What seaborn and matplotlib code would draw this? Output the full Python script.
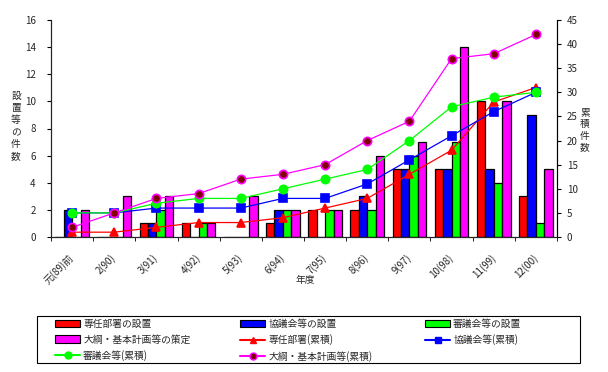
import numpy as np
import pandas as pd
import matplotlib
matplotlib.use("Agg")
import matplotlib.pyplot as plt
import matplotlib.transforms as mtrans
import seaborn as sns
from matplotlib.patches import Patch, Rectangle
from matplotlib.lines import Line2D

# ---- data ----
years = ["元(89)前", "2(90)", "3(91)", "4(92)", "5(93)", "6(94)",
         "7(95)", "8(96)", "9(97)", "10(98)", "11(99)", "12(00)"]

senin = [0, 0, 1, 1, 0, 1, 2, 2, 5, 5, 10, 3]        # 専任部署の設置
kyogi = [2, 0, 1, 0, 0, 2, 0, 3, 5, 5, 5, 9]         # 協議会等の設置
shingi = [0, 0, 2, 1, 0, 2, 2, 2, 6, 7, 4, 1]        # 審議会等の設置
taiko = [2, 3, 3, 1, 3, 2, 2, 6, 7, 14, 10, 5]       # 大綱・基本計画等の策定

senin_cum = [1, 1, 2, 3, 3, 4, 6, 8, 13, 18, 28, 31]
kyogi_cum = [5, 5, 6, 6, 6, 8, 8, 11, 16, 21, 26, 30]
shingi_cum = [5, 5, 7, 8, 8, 10, 12, 14, 20, 27, 29, 30]
taiko_cum = [2, 5, 8, 9, 12, 13, 15, 20, 24, 37, 38, 42]

bar_names = ["専任部署の設置", "協議会等の設置", "審議会等の設置", "大綱・基本計画等の策定"]
line_names = ["専任部署(累積)", "協議会等(累積)", "審議会等(累積)", "大綱・基本計画等(累積)"]
colors = ["#FF0000", "#0000FF", "#00FF00", "#FF00FF"]

sns.set_style("white")
plt.rcParams["font.family"] = ["Noto Sans CJK JP", "DejaVu Sans"]
plt.rcParams["font.size"] = 7

df = pd.DataFrame({
    "year": years * 4,
    "count": senin + kyogi + shingi + taiko,
    "kind": sum([[n] * len(years) for n in bar_names], []),
})

W, H = 608, 372
fig = plt.figure(figsize=(W / 100, H / 100), dpi=100)
ax = fig.add_axes([51 / W, 1 - 237 / H, (557 - 51) / W, (237 - 20) / H])

sns.barplot(data=df, x="year", y="count", hue="kind", hue_order=bar_names,
            palette=colors, saturation=1, width=0.8, edgecolor="black",
            linewidth=0.9, ax=ax, legend=False)
ax.set_ylim(0, 16)
ax.set_yticks(range(0, 17, 2))
ax.set_xlim(-0.5, len(years) - 0.5)
ax.set_xlabel("")
ax.set_ylabel("")

ax.set_xticks(range(len(years)))
ax.set_xticklabels(years, rotation=45, ha="right", va="center", rotation_mode="anchor")
shift = mtrans.ScaledTranslation(-6 / 100, 0, fig.dpi_scale_trans)
for lbl in ax.get_xticklabels():
    lbl.set_transform(lbl.get_transform() + shift)
ax.set_xticks(np.arange(-0.5, len(years)), minor=True)
ax.tick_params(axis="x", which="major", length=0, pad=14)
ax.tick_params(axis="x", which="minor", length=3, direction="out", color="black", bottom=True)
ax.tick_params(axis="y", length=3, direction="out", color="black", left=True, pad=8)
for s in ["left", "bottom", "right"]:
    ax.spines[s].set_color("black")
    ax.spines[s].set_linewidth(0.8)
ax.spines["top"].set_visible(False)

ax2 = ax.twinx()
x = np.arange(len(years))
markers = ["^", "s", "o", "o"]
cums = [senin_cum, kyogi_cum, shingi_cum, taiko_cum]
mfc = ["#FF0000", "#0000FF", "#00FF00", "#800000"]
mec = ["#FF0000", "#0000FF", "#00FF00", "#FF00FF"]
for i, vals in enumerate(cums):
    sns.lineplot(x=x, y=vals, ax=ax2, color=colors[i], linewidth=0.9,
                 marker=markers[i], markersize=6, markerfacecolor=mfc[i],
                 markeredgecolor=mec[i], markeredgewidth=1.2)
ax2.set_ylim(0, 45)
ax2.set_yticks(range(0, 46, 5))
ax2.set_xlim(-0.5, len(years) - 0.5)
ax2.set_ylabel("")
ax2.tick_params(axis="y", length=3, direction="out", color="black", right=True, pad=4)
ax2.spines["right"].set_color("black")
ax2.spines["right"].set_linewidth(0.8)
ax2.spines["top"].set_visible(False)

# axis titles
fig.text(305 / W, 1 - 280 / H, "年度", ha="center", va="center", fontsize=7)
fig.text(16 / W, 1 - 126 / H, "\n".join("設置等の件数"), ha="center", va="center",
         fontsize=7, linespacing=1.25)
fig.text(585 / W, 1 - 130 / H, "\n".join("累積件数"), ha="center", va="center",
         fontsize=7, linespacing=1.2)

# legend: three columns, one box
bar_h = [Patch(facecolor=c, edgecolor="black", linewidth=0.8, label=n)
         for c, n in zip(colors, bar_names)]
line_h = [Line2D([0], [0], color=colors[i], marker=markers[i], markersize=5,
                 markerfacecolor=mfc[i], markeredgecolor=mec[i], label=line_names[i])
          for i in range(4)]
columns = [
    (55, [bar_h[0], bar_h[3], line_h[2]]),
    (240, [bar_h[1], line_h[0], line_h[3]]),
    (425, [bar_h[2], line_h[1]]),
]
for x0, hs in columns:
    lg = fig.legend(handles=hs, loc="upper left", bbox_to_anchor=(x0 / W, 1 - 319 / H),
                    frameon=False, fontsize=7, handlelength=2.6, handleheight=0.8,
                    handletextpad=0.3, borderpad=0, borderaxespad=0, labelspacing=0.55)
fig.add_artist(Rectangle((37 / W, 1 - 363 / H), (580 - 37) / W, 47 / H,
                         transform=fig.transFigure, fill=False,
                         edgecolor="black", linewidth=0.8))

fig.savefig("out.png", dpi=100)
